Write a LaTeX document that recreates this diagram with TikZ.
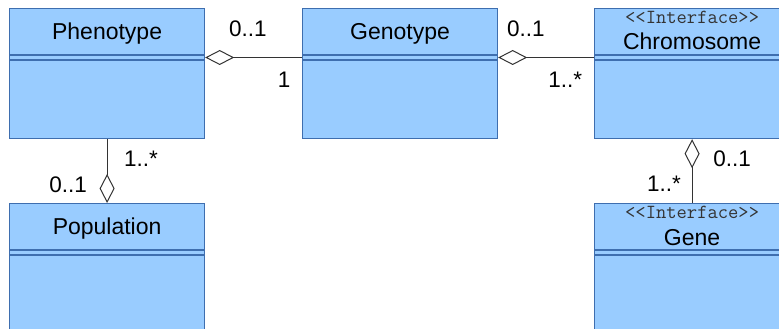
\documentclass[tikz,border=0pt]{standalone}
\usepackage{fontspec}
\setmainfont{Liberation Sans}
\usetikzlibrary{calc,arrows.meta}
\definecolor{classfill}{RGB}{153,204,255}
\definecolor{classedge}{RGB}{62,110,175}
\definecolor{linkgray}{RGB}{51,51,51}
\tikzset{
  classbox/.style={draw=classedge, fill=classfill, line width=1.2pt, minimum width=195pt, minimum height=130pt, inner sep=0pt, anchor=north west},
  sepline/.style={draw=classedge, line width=1.2pt},
  classname/.style={font=\fontsize{23}{27}\selectfont, inner sep=0pt, anchor=base},
  stereo/.style={font=\ttfamily\fontsize{20}{22}\selectfont, text=linkgray, inner sep=0pt, anchor=base},
  mult/.style={font=\fontsize{22.5}{26}\selectfont, inner sep=0pt},
  aggr/.style={draw=linkgray, line width=1pt},
  hollow/.tip={Diamond[open, length=29pt, width=15pt]}
}
\def\umlclass(#1,#2,#3,#4){
  \node[classbox] (#1) at (#2,#3) {};
  \draw[sepline] ($(#1.north west)+(0,-47pt)$) -- ($(#1.north east)+(0,-47pt)$);
  \draw[sepline] ($(#1.north west)+(0,-52pt)$) -- ($(#1.north east)+(0,-52pt)$);
  \coordinate (#1_w) at ($(#1.north west)+(0,-49.5pt)$);
  \coordinate (#1_e) at ($(#1.north east)+(0,-49.5pt)$);
  \node[classname] (#1_nm) at ($(#1.north)+(0,-31.5pt)$) {#4};
}
\def\umliface(#1,#2,#3,#4){
  \node[classbox] (#1) at (#2,#3) {};
  \draw[sepline] ($(#1.north west)+(0,-47pt)$) -- ($(#1.north east)+(0,-47pt)$);
  \draw[sepline] ($(#1.north west)+(0,-52pt)$) -- ($(#1.north east)+(0,-52pt)$);
  \coordinate (#1_w) at ($(#1.north west)+(0,-49.5pt)$);
  \coordinate (#1_e) at ($(#1.north east)+(0,-49.5pt)$);
  \node[stereo] (#1_st) at ($(#1.north)+(0,-15.5pt)$) {<{}<Interface>{}>};
  \node[classname] (#1_nm) at ($(#1.north)+(0,-42pt)$) {#4};
}

\begin{document}
\begin{tikzpicture}[x=1pt,y=-1pt]
\useasboundingbox (0,0) rectangle (779,329);
% classes
\umlclass(Phenotype,9,8,Phenotype)
\umlclass(Genotype,302,8,Genotype)
\umliface(Chromosome,594,8,Chromosome)
\umlclass(Population,9,203,Population)
\umliface(Gene,594,203,Gene)
% aggregations
\draw[aggr, {hollow}-] (Phenotype_e) -- (Genotype_w)
  node[mult, pos=0.44, yshift=28.5pt] (phgen_a) {0..1}
  node[mult, pos=0.816, yshift=-22.5pt] (phgen_b) {1};
\draw[aggr, {hollow}-] (Genotype_e) -- (Chromosome_w)
  node[mult, pos=0.29, yshift=29pt] (genchr_a) {0..1}
  node[mult, pos=0.70, yshift=-22.5pt] (genchr_b) {1..*};
\draw[aggr, -{hollow}] (Phenotype.south) -- (Population.north)
  node[mult, pos=0.31, xshift=34pt] (phpop_a) {1..*}
  node[mult, pos=0.71, xshift=-39pt] (phpop_b) {0..1};
\draw[aggr, {hollow}-] (Chromosome.south) -- (Gene.north)
  node[mult, pos=0.31, xshift=40pt] (chrgen_a) {0..1}
  node[mult, pos=0.70, xshift=-28pt] (chrgen_b) {1..*};
\end{tikzpicture}
\end{document}
